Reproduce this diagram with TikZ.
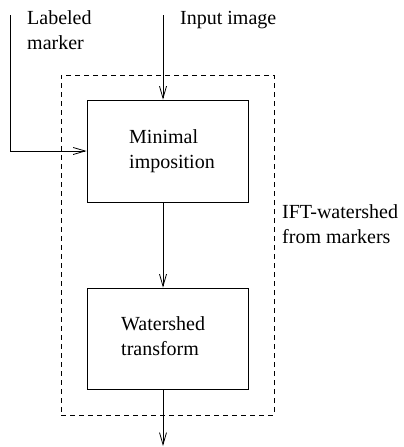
\documentclass[tikz,border=0pt]{standalone}
\usepackage{fontspec}
\setmainfont{Liberation Serif}
\usetikzlibrary{arrows.meta}
\begin{document}
\begin{tikzpicture}[x=1pt,y=-1pt,
  lbl/.style={anchor=north west,inner sep=0pt,align=left,font=\fontsize{20}{25}\selectfont},
  procbox/.style={draw,line width=0.8pt,minimum width=161pt,minimum height=102pt,inner sep=0pt},
  dashbox/.style={draw,line width=0.8pt,dash pattern=on 5pt off 4pt,minimum width=213pt,minimum height=340pt,inner sep=0pt},
  arr/.style={line width=0.8pt,-{Straight Barb[length=12pt,width=7pt,line width=0.8pt]}}]
\useasboundingbox (0,0) rectangle (404,447);
\node[dashbox] (ift) at (167.5,245) {};
\node[procbox] (box1) at (167.5,151) {};
\node[procbox,minimum height=101pt] (box2) at (167.5,338.5) {};
\node[lbl] (t1) at (129,129.6) {Minimal\\imposition};
\node[lbl] (t2) at (121,316) {Watershed\\transform};
\node[lbl] (tlm) at (27,10.6) {Labeled\\marker};
\node[lbl] (tin) at (180,11) {Input image};
\node[lbl] (tift) at (282,204) {IFT-watershed\\from markers};
\coordinate (lmtop) at (10,15);
\coordinate (intop) at (163,15);
\coordinate (outend) at (163,446);
\draw[arr] (lmtop) |- (box1.west);
\draw[arr] (intop) -- (intop |- box1.north);
\draw[arr] (box1.south -| intop) -- (box2.north -| intop);
\draw[arr] (box2.south -| intop) -- (outend);
\end{tikzpicture}
\end{document}
